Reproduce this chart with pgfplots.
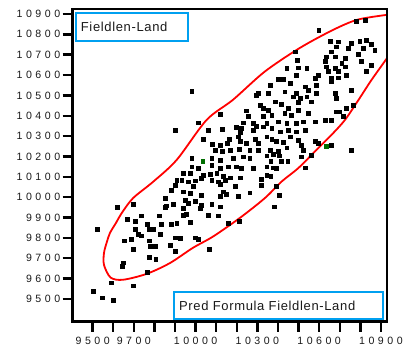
\documentclass[border=0pt]{standalone}
\usepackage{pgfplots}
\pgfplotsset{compat=1.18}
\usepackage{pgfplotstable}
\usepackage{fontspec}
\setmainfont{Liberation Sans}
\newfontfamily\tickfont[LetterSpace=33]{Liberation Sans}
\newfontfamily\boxfont[LetterSpace=5]{Liberation Sans}
\definecolor{jmpblue}{RGB}{0,160,240}
\definecolor{jmpgreen}{RGB}{0,110,0}
\definecolor{txt}{RGB}{25,25,25}

\pgfplotstableread{
x y
9618 9949
9696 9967
9521 9844
9667 9893
9734 9909
9705 9880
9764 9868
9822 9909
9832 9867
9705 9844
9773 9844
9793 9844
9720 9818
9736 9811
9828 9818
9652 9786
9686 9795
9773 9786
9780 9757
9802 9757
9696 9746
9773 9703
9806 9697
9650 9678
9642 9662
9764 9631
9589 9580
9696 9565
9501 9536
9545 9506
9599 9492
10037 10286
10163 10286
10207 10297
10288 10286
10082 10261
10118 10257
10153 10265
10215 10273
10247 10265
10304 10265
10094 10232
10131 10227
10166 10232
10212 10237
10263 10232
10304 10232
9981 10191
10078 10191
10118 10183
10182 10191
10231 10199
10263 10191
9981 10150
10013 10142
10078 10158
10118 10142
10158 10150
10199 10150
10223 10142
10280 10142
9940 10118
9972 10118
10037 10109
10069 10113
10102 10118
10134 10101
10166 10096
10215 10096
9932 10085
9964 10076
9997 10081
10029 10093
10078 10085
10110 10076
10142 10085
9900 10060
9908 10085
9988 10052
10118 10064
10191 10052
9883 10036
9940 10027
9972 10019
10029 10011
10134 10027
10150 10014
10118 10003
10207 10003
9851 9995
9948 9986
9964 9970
9997 9982
10029 9962
10078 9965
10118 9953
9891 9965
9859 9958
9940 9946
10021 9946
9851 9949
9940 9913
9956 9916
10061 9913
10110 9909
9883 9867
9908 9872
9972 9877
10158 9872
9900 9801
9924 9798
9997 9801
10013 9795
9875 9765
10064 9746
9900 9736
10263 10022
10210 9880
10320 10060
10320 10088
10345 10297
10369 10286
10393 10273
10425 10270
10458 10297
10498 10281
10514 10257
10579 10273
10595 10265
10660 10257
10757 10232
10563 10207
10522 10229
10514 10199
10442 10243
10401 10227
10361 10232
10377 10211
10404 10204
10345 10204
10365 10175
10417 10175
10447 10175
10345 10150
10377 10145
10393 10142
10531 10145
10345 10109
10365 10101
10393 10052
10404 10008
10380 9953
9981 10522
10118 10409
10013 10366
10061 10327
9900 10327
10131 10335
10304 10510
10296 10499
10312 10450
10328 10437
10247 10425
10255 10396
10328 10396
10231 10366
10280 10363
10296 10350
10199 10342
10223 10339
10215 10319
10280 10330
10328 10346
10598 10821
10781 10866
10822 10871
10652 10767
10692 10764
10757 10756
10797 10767
10830 10772
10854 10751
10684 10739
10741 10731
10814 10731
10870 10723
10482 10715
10660 10715
10789 10702
10636 10690
10676 10690
10725 10682
10495 10671
10628 10666
10709 10658
10806 10666
10854 10650
10442 10633
10498 10636
10539 10633
10636 10641
10676 10633
10725 10641
10644 10617
10692 10617
10830 10617
10490 10600
10595 10600
10733 10600
10401 10581
10425 10579
10579 10584
10660 10584
10692 10587
10361 10551
10458 10560
10531 10543
10587 10551
10660 10568
10757 10527
10433 10518
10490 10510
10547 10527
10587 10510
10676 10510
10352 10510
10474 10494
10506 10486
10539 10494
10684 10486
10385 10469
10417 10456
10498 10466
10563 10469
10733 10437
10765 10453
10449 10437
10498 10428
10547 10412
10352 10428
10369 10404
10433 10412
10466 10404
10490 10363
10579 10371
10628 10379
10660 10379
10716 10396
10684 10420
10700 10420
10345 10363
10401 10371
10442 10363
10522 10371
10369 10339
10449 10330
10531 10330
10409 10322
10490 10322
}\blackpts

\pgfplotstableread{
x y
10034 10175
10636 10252
}\greenpts

\begin{document}
\begin{tikzpicture}
\begin{pgfinterruptboundingbox}
\begin{axis}[
  name=ax,
  at={(0pt,0pt)}, anchor=south west,
  width=314pt, height=312.4pt, scale only axis,
  xmin=9403, xmax=10928, ymin=9388, ymax=10923,
  scaled ticks=false,
  axis line style={line width=2.4pt, black},
  major tick style={line width=2.4pt, black},
  major tick length=10pt,
  tick align=outside,
  xtick pos=bottom, ytick pos=left,
  xtick={9500,9600,9700,9800,9900,10000,10100,10200,10300,10400,10500,10600,10700,10800,10900},
  xticklabels={9500,,9700,,,10000,,,10300,,,10600,,,10900},
  ytick={9500,9600,9700,9800,9900,10000,10100,10200,10300,10400,10500,10600,10700,10800,10900},
  yticklabels={9500,9600,9700,9800,9900,10000,10100,10200,10300,10400,10500,10600,10700,10800,10900},
  ticklabel style={font=\fontsize{10.6}{12}\tickfont, text=txt},
  xticklabel style={yshift=-2pt},
  yticklabel style={xshift=1pt},
]
\addplot[only marks, mark=square*, mark size=1.9pt, black] table[x=x,y=y]{\blackpts};
\addplot[only marks, mark=square*, mark size=1.9pt, jmpgreen] table[x=x,y=y]{\greenpts};
\addplot[red, line width=1.8pt, smooth, no marks] coordinates {
(10940,10698) (10914,10661) (10851,10571) (10788,10473) (10725,10379)
(10660,10306) (10579,10224) (10498,10142) (10417,10076) (10336,9995)
(10215,9898) (10084,9806) (9987,9751) (9875,9676) (9762,9623)
(9647,9594) (9587,9605) (9555,9667) (9555,9726) (9569,9780)
(9584,9824) (9613,9873) (9642,9923) (9696,9995) (9793,10075)
(9908,10183) (10053,10379) (10181,10478) (10336,10617) (10506,10733)
(10666,10821) (10783,10871) (10909,10893) (10950,10897)};
\draw[jmpblue, line width=2pt] (rel axis cs:0.0096,0.8995) rectangle (rel axis cs:0.368,0.989);
\node[anchor=base west, inner sep=0pt, font=\fontsize{13}{15}\boxfont, text=txt] at (rel axis cs:0.0255,0.9283) {Fieldlen-Land};
\draw[jmpblue, line width=2pt] (rel axis cs:0.323,0.0077) rectangle (rel axis cs:0.989,0.096);
\node[anchor=base west, inner sep=0pt, font=\fontsize{13}{15}\boxfont, text=txt] at (rel axis cs:0.3385,0.0352) {Pred Formula Fieldlen-Land};
\end{axis}
\draw[line width=2.4pt, black] (ax.south west) rectangle (ax.north east);
\end{pgfinterruptboundingbox}
\useasboundingbox (-72.7pt,-30.3pt) rectangle (335.3pt,321.7pt);
\end{tikzpicture}
\end{document}
